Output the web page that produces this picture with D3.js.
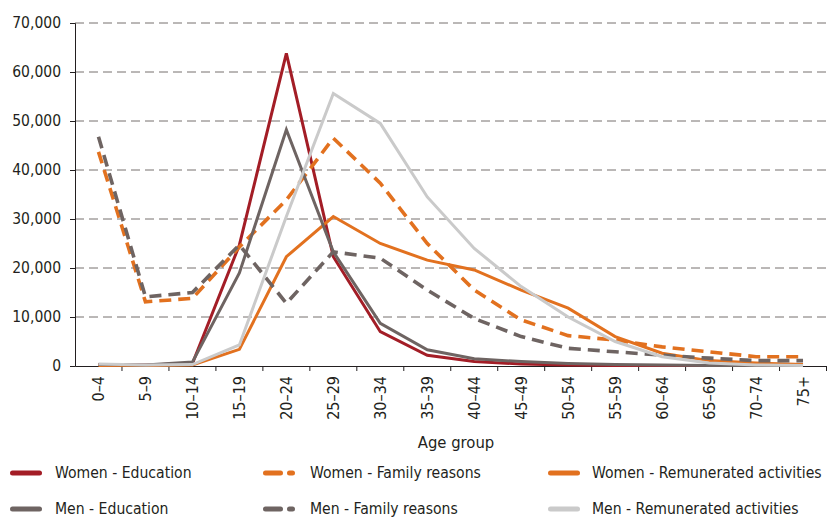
<!DOCTYPE html>
<html>
<head>
<meta charset="utf-8">
<script src="https://cdn.jsdelivr.net/npm/d3@7"></script>
<style>
  html, body { margin: 0; padding: 0; background: #ffffff; }
  svg { display: block; }
  text { font-family: "DejaVu Sans Condensed", "Liberation Sans Narrow", sans-serif; fill: #231f20; }
</style>
</head>
<body>
<svg id="chart" width="829" height="519"></svg>
<script>
const ageGroups = ["0–4","5–9","10–14","15–19","20–24","25–29","30–34","35–39","40–44","45–49","50–54","55–59","60–64","65–69","70–74","75+"];
const yTicks = [0, 10000, 20000, 30000, 40000, 50000, 60000, 70000];

const womenEducation     = [300, 200, 500, 24700, 63800, 22300, 7000, 2200, 900, 400, 200, 100, 100, 100, 100, 100];
const womenFamily        = [43700, 13100, 13800, 24300, 33900, 46500, 37300, 25000, 15500, 9400, 6200, 5300, 3900, 2900, 1900, 1900];
const womenRemunerated   = [100, 100, 200, 3400, 22300, 30500, 25000, 21600, 19600, 15500, 11800, 6000, 2600, 1100, 600, 300];
const menEducation       = [300, 200, 800, 19000, 48200, 23300, 8700, 3300, 1500, 900, 500, 300, 200, 100, 100, 100];
const menFamily          = [46800, 14100, 15000, 24700, 12800, 23300, 22000, 15500, 9700, 6000, 3600, 2900, 2200, 1600, 1100, 1100];
const menRemunerated     = [400, 200, 300, 4300, 30500, 55600, 49500, 34500, 24000, 16200, 10000, 5000, 1900, 600, 200, 100];

const seriesNames = ["Women - Education","Women - Family reasons","Women - Remunerated activities","Men - Education","Men - Family reasons","Men - Remunerated activities"];

const series = [
  {name: seriesNames[0], values: womenEducation,   color: "#a31d26", dashed: false},
  {name: seriesNames[1], values: womenFamily,      color: "#e2711f", dashed: true},
  {name: seriesNames[2], values: womenRemunerated, color: "#e2711f", dashed: false},
  {name: seriesNames[3], values: menEducation,     color: "#6e6462", dashed: false},
  {name: seriesNames[4], values: menFamily,        color: "#6e6462", dashed: true},
  {name: seriesNames[5], values: menRemunerated,   color: "#cacaca", dashed: false}
];

const svg = d3.select("#chart");
const plotLeft = 75, plotRight = 826.5, plotTop = 23, plotBottom = 366;
const fontFam = '"DejaVu Sans Condensed", "Liberation Sans Narrow", sans-serif';

const x = d3.scaleBand().domain(ageGroups).range([plotLeft, plotRight]).padding(0);
const y = d3.scaleLinear().domain([0, 70000]).range([plotBottom, plotTop]);

// gridlines
svg.append("g").selectAll("line").data(yTicks.filter(d => d > 0)).join("line")
  .attr("x1", plotLeft).attr("x2", plotRight)
  .attr("y1", d => y(d)).attr("y2", d => y(d))
  .attr("stroke", "#77706e").attr("stroke-width", 1)
  .attr("stroke-dasharray", "9,5");

// y axis
const yAxis = svg.append("g").attr("transform", `translate(${plotLeft},0)`)
  .call(d3.axisLeft(y).tickValues(yTicks).tickSize(5).tickPadding(9).tickFormat(d3.format(",")));
yAxis.select(".domain").attr("stroke", "#231f20").attr("stroke-width", 1);
yAxis.selectAll(".tick line").attr("stroke", "#231f20");
yAxis.selectAll("text").attr("font-size", 15.5).attr("fill", "#231f20").style("font-family", fontFam);

// x axis
const xAxis = svg.append("g").attr("transform", `translate(0,${plotBottom})`)
  .call(d3.axisBottom(x).tickSize(0).tickSizeOuter(0));
xAxis.select(".domain").attr("stroke", "#231f20").attr("stroke-width", 1);
xAxis.selectAll(".tick text")
  .attr("font-size", 16).attr("fill", "#231f20").style("font-family", fontFam)
  .attr("text-anchor", "end")
  .attr("transform", "rotate(-90)")
  .attr("x", -10).attr("y", 0).attr("dy", "0.35em");
// boundary ticks between categories
const boundaries = ageGroups.map(g => x(g)).slice(1).concat([plotRight]);
svg.append("g").selectAll("line").data(boundaries).join("line")
  .attr("x1", d => d).attr("x2", d => d)
  .attr("y1", plotBottom).attr("y2", plotBottom + 5)
  .attr("stroke", "#231f20").attr("stroke-width", 1);

// axis title
svg.append("text").attr("x", 456).attr("y", 448)
  .attr("text-anchor", "middle").attr("font-size", 16.5).text("Age group");

// lines
const line = d3.line()
  .x((d, i) => x(ageGroups[i]) + x.bandwidth() / 2)
  .y(d => y(d));

svg.append("g").selectAll("path").data(series).join("path")
  .attr("d", d => line(d.values))
  .attr("fill", "none")
  .attr("stroke", d => d.color)
  .attr("stroke-width", d => d.dashed ? 3.6 : 3)
  .attr("stroke-linejoin", "miter")
  .attr("stroke-dasharray", d => d.dashed ? "12,7" : null);

// legend
const colX = [12.5, 265.5, 550.5];
const textX = [55, 310, 592];
const rowY = [473, 509];
const legend = svg.append("g");
series.forEach((s, i) => {
  const col = i % 3, row = Math.floor(i / 3);
  const cx = colX[col], cy = rowY[row];
  legend.append("line")
    .attr("x1", cx).attr("x2", cx + 27).attr("y1", cy).attr("y2", cy)
    .attr("stroke", s.color).attr("stroke-width", 5).attr("stroke-linecap", "round")
    .attr("stroke-dasharray", s.dashed ? "15,9,3,100" : null);
  legend.append("text")
    .attr("x", textX[col]).attr("y", cy).attr("dy", "0.35em")
    .attr("font-size", 15.6).text(s.name);
});
</script>
</body>
</html>
